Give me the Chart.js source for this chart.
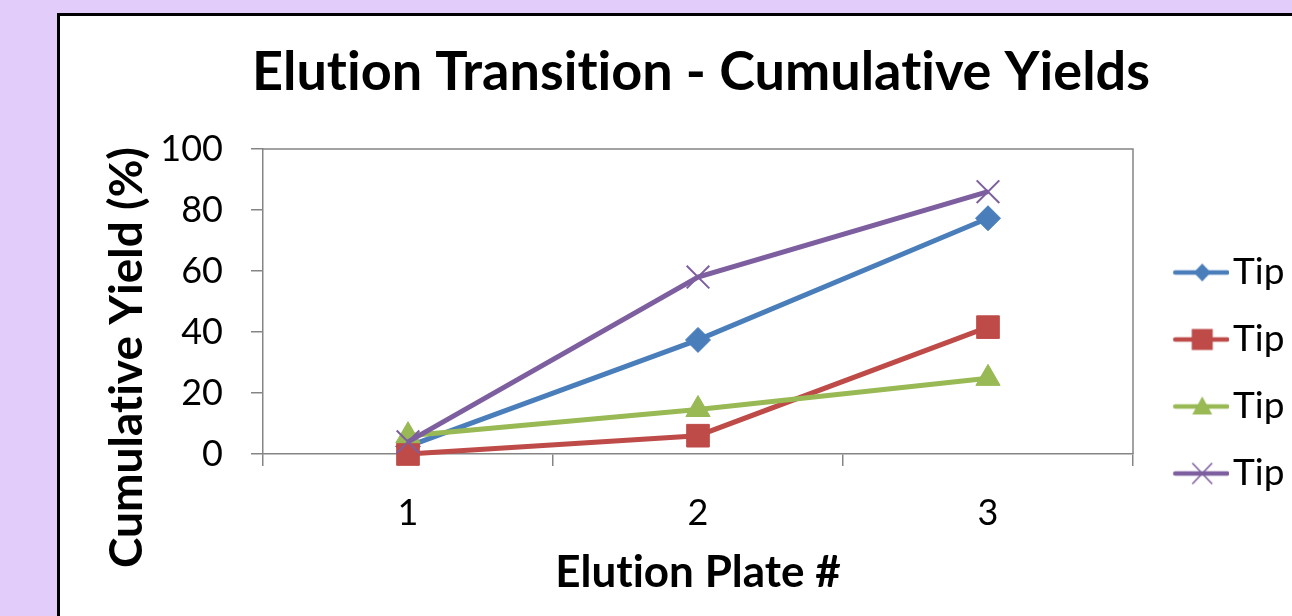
<!DOCTYPE html>
<html>
<head>
<meta charset="utf-8">
<script src="https://cdn.jsdelivr.net/npm/chart.js@4/dist/chart.umd.min.js"></script>
<style>
  html, body { margin: 0; padding: 0; width: 1292px; height: 616px; overflow: hidden; background: #E2CDFA; }
  #frame { position: absolute; left: 57px; top: 13px; width: 1400px; height: 800px; background: #fff; border: 3px solid #000; box-sizing: border-box; }
  #c { position: absolute; left: 0; top: 0; }
</style>
</head>
<body>
<div id="frame"></div>
<canvas id="c" width="1292" height="746"></canvas>
<script>
// Elution plates on the category axis
const plates = ['1', '2', '3'];
// Series names as shown in the legend
const seriesNames = ['Tip', 'Tip', 'Tip', 'Tip'];
// Cumulative yield (%) per tip
const tipBlue = [2.5, 37.4, 77.3];
const tipRed = [0, 6.0, 41.6];
const tipGreen = [6.0, 14.6, 24.8];
const tipPurple = [4.0, 58.0, 86.0];
// Value axis ticks
const yTicks = [0, 20, 40, 60, 80, 100];

const FONT = 'Lato';
const AXIS_GRAY = '#858585';

const styles = [
  { color: '#4A7EBB', point: 'rectRot', radius: 12.5, border: 1 },
  { color: '#BE4B48', point: 'rect', radius: 16, border: 1 },
  { color: '#98B954', point: 'triangle', radius: 14, border: 1 },
  { color: '#7D5FA0', point: 'crossRot', radius: 16, border: 2 }
];
const values = [tipBlue, tipRed, tipGreen, tipPurple];

// Legend swatch: a short line with the series marker in the middle
function legendIcon(s) {
  const c = document.createElement('canvas');
  c.width = 81; c.height = 28;
  const g = c.getContext('2d');
  const cx = 54, cy = 14;
  g.strokeStyle = s.color; g.fillStyle = s.color;
  g.lineWidth = 4.5; g.lineCap = 'round';
  g.beginPath(); g.moveTo(27, cy); g.lineTo(79, cy); g.stroke();
  g.lineWidth = 1.6;
  g.beginPath();
  if (s.point === 'rectRot') {
    g.moveTo(cx - 8.5, cy); g.lineTo(cx, cy - 9); g.lineTo(cx + 8.5, cy); g.lineTo(cx, cy + 9); g.closePath(); g.fill();
  } else if (s.point === 'rect') {
    g.rect(cx - 10.5, cy - 10.5, 21, 21); g.fill();
  } else if (s.point === 'triangle') {
    g.moveTo(cx, cy - 10); g.lineTo(cx + 10, cy + 8); g.lineTo(cx - 10, cy + 8); g.closePath(); g.fill();
  } else {
    g.moveTo(cx - 9.5, cy - 10); g.lineTo(cx + 9.5, cy + 10);
    g.moveTo(cx + 9.5, cy - 10); g.lineTo(cx - 9.5, cy + 10); g.stroke();
  }
  return c;
}

const datasets = values.map((v, i) => ({
  label: seriesNames[i],
  data: v,
  borderColor: styles[i].color,
  backgroundColor: styles[i].color,
  borderWidth: 5,
  tension: 0,
  pointStyle: styles[i].point,
  pointRadius: styles[i].radius,
  pointHoverRadius: styles[i].radius,
  pointBackgroundColor: styles[i].color,
  pointBorderColor: styles[i].color,
  pointBorderWidth: styles[i].border,
  order: values.length - i,
  clip: false
}));

// Plot-area frame (top and right edges), plain letter shapes and fixed legend width
const plotFrame = {
  id: 'plotFrame',
  beforeUpdate(chart) {
    const lg = chart.legend;
    if (lg && !lg._fixedWidth) {
      const fit = lg.fit;
      lg.fit = function () { fit.call(this); this.width = 159; };
      lg._fixedWidth = true;
    }
  },
  beforeDraw(chart) {
    // a tiny letter spacing keeps "ti" as two separate glyphs
    if ('letterSpacing' in chart.ctx) chart.ctx.letterSpacing = '0.01px';
  },
  beforeDatasetsDraw(chart) {
    const { ctx, chartArea: a } = chart;
    ctx.save();
    ctx.strokeStyle = AXIS_GRAY;
    ctx.lineWidth = 1.5;
    ctx.beginPath();
    ctx.moveTo(a.left, a.top); ctx.lineTo(a.right, a.top); ctx.lineTo(a.right, a.bottom);
    ctx.stroke();
    ctx.restore();
  }
};

new Chart(document.getElementById('c'), {
  type: 'line',
  data: { labels: plates, datasets },
  options: {
    responsive: false,
    animation: false,
    events: [],
    layout: { padding: { left: 110, right: 0, top: 0, bottom: 0 } },
    plugins: {
      title: {
        display: true,
        fullSize: true,
        text: 'Elution Transition - Cumulative Yields',
        color: '#000',
        font: { family: FONT, size: 54, weight: 'bold' },
        padding: { top: 40.6, bottom: 43.6 }
      },
      legend: {
        display: true,
        position: 'right',
        align: 'center',
        labels: {
          usePointStyle: true,
          pointStyleWidth: 51.5,
          padding: 30,
          color: '#000',
          font: { family: FONT, size: 37 },
          generateLabels(chart) {
            return chart.data.datasets.map((d, i) => ({
              text: d.label,
              pointStyle: legendIcon(styles[i]),
              fillStyle: d.borderColor,
              strokeStyle: d.borderColor,
              lineWidth: 0,
              hidden: false,
              datasetIndex: i
            }));
          }
        }
      },
      tooltip: { enabled: false }
    },
    scales: {
      x: {
        type: 'category',
        offset: true,
        afterFit(scale) { scale.height = 292; },
        grid: { display: true, offset: true, drawOnChartArea: false, drawTicks: true, tickLength: 12, color: AXIS_GRAY, lineWidth: 1.5 },
        border: { display: true, color: AXIS_GRAY, width: 1.5 },
        ticks: { color: '#000', font: { family: FONT, size: 36 }, padding: 26, maxRotation: 0 },
        title: {
          display: true,
          text: 'Elution Plate #',
          color: '#000',
          font: { family: FONT, size: 44, weight: 'bold' },
          padding: { top: 0, bottom: 146.6 }
        }
      },
      y: {
        min: yTicks[0],
        max: yTicks[yTicks.length - 1],
        afterFit(scale) { scale.width = 153; },
        afterBuildTicks(scale) { scale.ticks = yTicks.map(v => ({ value: v })); },
        afterUpdate(scale) {
          // centre the axis title on the whole chart height rather than the plot area
          if (!scale._titleShifted) {
            const draw = scale.drawTitle;
            scale.drawTitle = function () {
              const b = this.bottom;
              this.bottom = b + 112;
              draw.call(this);
              this.bottom = b;
            };
            scale._titleShifted = true;
          }
        },
        grid: { display: true, drawOnChartArea: false, drawTicks: true, tickLength: 12, color: AXIS_GRAY, lineWidth: 1.5 },
        border: { display: true, color: AXIS_GRAY, width: 1.5 },
        ticks: { color: '#000', font: { family: FONT, size: 36 }, padding: 28 },
        title: {
          display: true,
          text: 'Cumulative Yield (%)',
          color: '#000',
          font: { family: FONT, size: 46, weight: 'bold' },
          padding: { top: -10.6, bottom: 0 }
        }
      }
    }
  },
  plugins: [plotFrame]
});
</script>
</body>
</html>
